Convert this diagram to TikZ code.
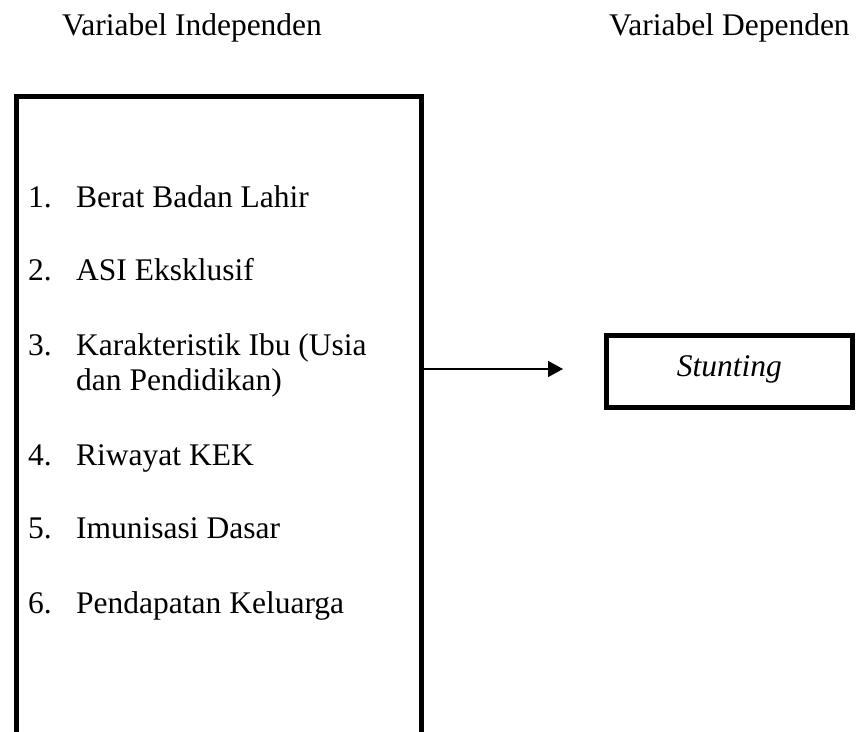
\documentclass[tikz,border=0pt]{standalone}
\usepackage{fontspec}
\setmainfont{Liberation Serif}
\usetikzlibrary{arrows.meta}
\begin{document}
\begin{tikzpicture}[x=1pt,y=-1pt,
  txt/.style={anchor=base west, inner sep=0pt, font=\fontsize{31.5}{36}\selectfont},
  frame/.style={line width=5pt},
  conn/.style={line width=1.5pt, -{Triangle[length=15pt,width=16pt]}},
  depbox/.style={draw, line width=5pt, minimum width=246.5pt, minimum height=72pt,
    inner sep=0pt, text height=21pt, text depth=10pt,
    font=\fontsize{31.5}{36}\selectfont\itshape}]
\useasboundingbox (0,0) rectangle (856,731);
\node[txt] (hI) at (62,35) {Variabel Independen};
\node[txt] (hD) at (609,35) {Variabel Dependen};
\draw[frame] (16,745) -- (16,96) -- (421,96) -- (421,745);
\node[txt] (n1) at (28,207) {1.};
\node[txt] (t1) at (76,207) {Berat Badan Lahir};
\node[txt] (n2) at (28,280) {2.};
\node[txt] (t2) at (76,280) {ASI Eksklusif};
\node[txt] (n3) at (28,355) {3.};
\node[txt] (t3a) at (76,355) {Karakteristik Ibu (Usia};
\node[txt] (t3b) at (76,390) {dan Pendidikan)};
\node[txt] (n4) at (28,465) {4.};
\node[txt] (t4) at (76,465) {Riwayat KEK};
\node[txt] (n5) at (28,538) {5.};
\node[txt] (t5) at (76,538) {Imunisasi Dasar};
\node[txt] (n6) at (28,613) {6.};
\node[txt] (t6) at (76,613) {Pendapatan Keluarga};
\coordinate (src) at (421,369);
\coordinate (tip) at (563,369);
\draw[conn] (src) -- (tip);
\node[depbox] (dep) at (729.25,371) {Stunting};
\end{tikzpicture}
\end{document}
